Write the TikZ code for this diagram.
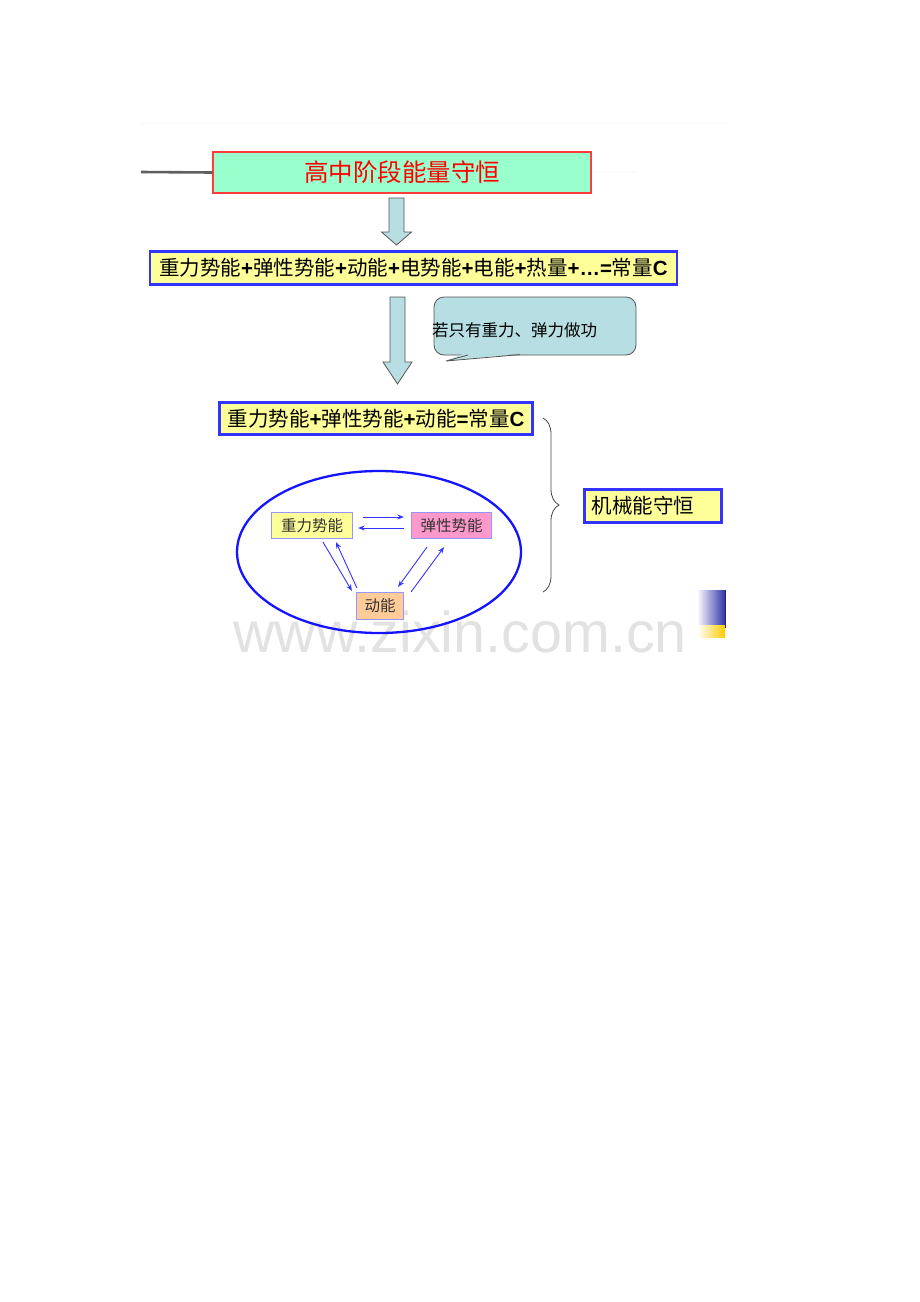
\documentclass[tikz,border=0pt]{standalone}
\usepackage{fontspec}
\setmainfont{Liberation Sans}
\newfontfamily\cjk{Noto Sans CJK SC}
\usetikzlibrary{shapes.geometric,arrows.meta,decorations.pathreplacing,calc}
\definecolor{boxblue}{RGB}{51,51,255}
\definecolor{boxyellow}{RGB}{255,255,153}
\definecolor{topgreen}{RGB}{153,255,204}
\definecolor{topred}{RGB}{255,60,60}
\definecolor{arrowfill}{RGB}{183,222,226}
\definecolor{arrowdraw}{RGB}{85,85,85}
\definecolor{smallborder}{RGB}{150,150,255}
\definecolor{pinkfill}{RGB}{255,153,204}
\definecolor{peachfill}{RGB}{255,204,153}
\definecolor{ellblue}{RGB}{20,20,255}
\definecolor{wmgray}{RGB}{226,226,226}
\definecolor{decoblue}{RGB}{51,51,170}
\definecolor{decoyellow}{RGB}{255,204,0}
\definecolor{txtgray}{RGB}{50,50,50}
\newcommand\pl{\textbf{+}}
\newcommand\fsz[1]{\fontsize{#1}{1.2\dimexpr #1\relax}\selectfont}
\tikzset{
  bigbox/.style={draw=boxblue, line width=2.5pt, fill=boxyellow, inner sep=0pt, text=black},
  smallbox/.style={draw=smallborder, line width=1.2pt, inner sep=0pt, text=txtgray, font=\cjk\fsz{15.5pt}},
  blockarrow/.style={fill=arrowfill, draw=arrowdraw, line width=0.8pt, line join=miter},
  flow/.style={draw=boxblue, line width=0.9pt, -{Stealth[length=6.5pt,width=5pt]}}
}
\begin{document}
\begin{tikzpicture}[x=1pt,y=1pt]
\useasboundingbox (0,0) rectangle (920,-1302);
% faint lines
\draw[gray!6, line width=1pt] (140,-123) -- (728,-123);
\draw[gray!4, line width=1.5pt] (592,-172) -- (637,-172);
% top box
\node[draw=topred, line width=1.2pt, fill=topgreen, minimum width=378pt, minimum height=41pt, inner sep=0pt, text=red, font=\cjk\fsz{24.5pt}] (top) at (402,-172.5) {高中阶段能量守恒};
\coordinate (lstart) at (141,-172);
\draw[color={rgb,255:red,95;green,95;blue,95}, line width=2.6pt] (lstart) -- (top.west);
% arrow 1
\draw[blockarrow] (389,-198) -- (404,-198) -- (404,-232) -- (411.5,-232) -- (396.5,-245) -- (381.5,-232) -- (389,-232) -- cycle;
% box 2
\node[bigbox, minimum width=527pt, minimum height=33pt] (all) at (413.5,-268)
 {\fsz{20.5pt}{\cjk 重力势能}\pl{\cjk 弹性势能}\pl{\cjk 动能}\pl{\cjk 电势能}\pl{\cjk 电能}\pl{\cjk 热量}\pl\textbf{…=}{\cjk 常量}\textbf{C}};
% arrow 2
\draw[blockarrow] (390,-297) -- (405,-297) -- (405,-362) -- (412,-362) -- (397.5,-384) -- (383,-362) -- (390,-362) -- cycle;
% callout
\node[draw=arrowdraw, line width=0.8pt, fill=arrowfill, rounded corners=10pt, minimum width=202pt, minimum height=58pt] (call) at (535,-326) {};
\fill[arrowfill] (465,-353.2) -- (446,-361) -- (523,-353.2) -- cycle;
\draw[arrowdraw, line width=0.8pt] (468,-355) -- (446,-361) -- (520,-354.6);
\node[anchor=west, inner sep=0pt, font=\cjk\fsz{16.5pt}, text=black] (ctext) at (432,-330) {若只有重力、弹力做功};
% box 3
\node[bigbox, minimum width=313pt, minimum height=32pt] (mech) at (376,-418.5)
 {\fsz{20.5pt}{\cjk 重力势能}\pl{\cjk 弹性势能}\pl{\cjk 动能}\textbf{=}{\cjk 常量}\textbf{C}};
% brace
\coordinate (btop) at (543,-418);
\coordinate (bbot) at (543,-592);
\draw[decorate, decoration={brace, amplitude=16pt}, color={rgb,255:red,70;green,70;blue,70}, line width=0.8pt] (btop) -- (bbot);
% box 4
\node[bigbox, text width=123pt, align=left, inner xsep=7pt, minimum height=33pt] (cons) at (653,-506)
 {\cjk\fsz{20.5pt}机械能守恒};
% watermark
\node[anchor=base west, inner sep=0pt, text=wmgray, font=\fsz{57.5pt}] (wm) at (233,-652) {www.zixin.com.cn};
% ellipse
\node[ellipse, draw=ellblue, line width=2.3pt, minimum width=284pt, minimum height=162pt, inner sep=0pt] (ell) at (379,-552) {};
% small boxes
\node[smallbox, fill=boxyellow, minimum width=81pt, minimum height=26pt] (g) at (312,-525.5) {重力势能};
\node[smallbox, fill=pinkfill, minimum width=80pt, minimum height=26pt] (e) at (451.5,-525.5) {弹性势能};
\node[smallbox, fill=peachfill, minimum width=47pt, minimum height=27pt] (k) at (380,-606) {动能};
% small arrows
\draw[flow] ([xshift=10pt,yshift=8.5pt]g.east) -- ([xshift=-7pt,yshift=8.5pt]e.west);
\draw[flow] ([xshift=-7pt,yshift=-2.5pt]e.west) -- ([xshift=5pt,yshift=-2.5pt]g.east);
\draw[flow] ([xshift=11pt,yshift=-3pt]g.south) -- ([xshift=-4pt,yshift=1pt]k.north west);
\draw[flow] ([xshift=1pt,yshift=4pt]k.north west) -- ([xshift=24pt,yshift=-3pt]g.south);
\draw[flow] ([xshift=-24.5pt,yshift=-8pt]e.south) -- ([xshift=-6pt,yshift=5pt]k.north east);
\draw[flow] ([xshift=7pt,yshift=0pt]k.north east) -- ([xshift=-7.5pt,yshift=-8pt]e.south);
% corner decoration
\shade[left color=white, right color=decoblue] (697,-590) rectangle (725,-625);
\shade[left color=white, right color=decoyellow] (697,-625) rectangle (725,-637);
\draw[decoblue!70!black, line width=0.8pt] (725,-590) -- (725,-628);
\end{tikzpicture}
\end{document}
